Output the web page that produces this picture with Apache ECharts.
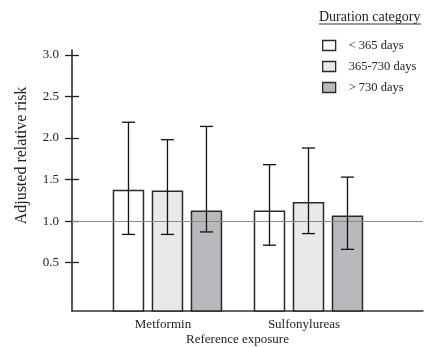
<!DOCTYPE html>
<html>
<head>
<meta charset="utf-8">
<script src="https://cdn.jsdelivr.net/npm/echarts@6/dist/echarts.min.js"></script>
<style>html,body{margin:0;padding:0;background:#fff}#c{width:427px;height:347px}</style>
</head>
<body>
<div id="c"></div>
<script>
// ---- data ----
var categories = ['Metformin', 'Sulfonylureas'];
var durations = ['< 365 days', '365-730 days', '> 730 days'];
var rrShort = [1.37, 1.12];
var rrMid = [1.36, 1.22];
var rrLong = [1.12, 1.06];
var lowShort = [0.84, 0.71];
var highShort = [2.19, 1.68];
var lowMid = [0.84, 0.85];
var highMid = [1.98, 1.88];
var lowLong = [0.87, 0.66];
var highLong = [2.14, 1.53];
var yTicks = [0.5, 1.0, 1.5, 2.0, 2.5, 3.0];
var referenceLevel = 1.0;

// ---- styling ----
var FONT = 'Liberation Serif';
var fills = ['#ffffff', '#e9e9eb', '#b9b9bd'];
var BAR_W = 30, BAR_GAP = 9;

var values = [rrShort, rrMid, rrLong];
var lows = [lowShort, lowMid, lowLong];
var highs = [highShort, highMid, highLong];

var series = [];
durations.forEach(function (name, k) {
  var offset = (k - 1) * (BAR_W + BAR_GAP);
  series.push({
    name: name,
    type: 'custom',
    encode: { x: 0, y: 1 },
    itemStyle: { color: fills[k], borderColor: '#2a2a2a', borderWidth: 1.5 },
    data: categories.map(function (c, i) { return [i, values[k][i]]; }),
    markLine: k === 0 ? {
      silent: true, symbol: 'none', label: { show: false },
      lineStyle: { color: '#8a8a8a', width: 1.2, type: 'solid' },
      data: [{ yAxis: referenceLevel }]
    } : undefined,
    z: 2,
    renderItem: function (params, api) {
      var top = api.coord([api.value(0), api.value(1)]);
      var bottom = params.coordSys.y + params.coordSys.height;
      var x = top[0] + offset - BAR_W / 2;
      return {
        type: 'rect',
        shape: { x: x, y: top[1], width: BAR_W, height: bottom - top[1] },
        style: { fill: fills[k], stroke: '#2a2a2a', lineWidth: 1.5 }
      };
    }
  });
});
durations.forEach(function (name, k) {
  var offset = (k - 1) * (BAR_W + BAR_GAP);
  series.push({
    type: 'custom',
    name: name + ' CI',
    encode: { x: 0, y: [1, 2] },
    data: categories.map(function (c, i) { return [i, lows[k][i], highs[k][i]]; }),
    z: 5,
    renderItem: function (params, api) {
      var lo = api.coord([api.value(0), api.value(1)]);
      var hi = api.coord([api.value(0), api.value(2)]);
      var x = lo[0] + offset;
      var cap = 6.5;
      var st = { stroke: '#111', lineWidth: 1.3 };
      return {
        type: 'group',
        children: [
          { type: 'line', shape: { x1: x, y1: lo[1], x2: x, y2: hi[1] }, style: st },
          { type: 'line', shape: { x1: x - cap, y1: lo[1], x2: x + cap, y2: lo[1] }, style: st },
          { type: 'line', shape: { x1: x - cap, y1: hi[1], x2: x + cap, y2: hi[1] }, style: st }
        ]
      };
    }
  });
});

var chart = echarts.init(document.getElementById('c'), null, { renderer: 'canvas' });
chart.setOption({
  animation: false,
  backgroundColor: '#fff',
  textStyle: { fontFamily: FONT },
  grid: { left: 72, right: 4, top: 50, bottom: 36, outerBoundsMode: 'none', containLabel: false },
  legend: {
    data: durations.map(function (d, k) {
      return { name: d, icon: 'rect', itemStyle: { color: fills[k], borderColor: '#2a2a2a', borderWidth: 1.3 } };
    }),
    orient: 'vertical',
    left: 317, top: 34,
    itemWidth: 13, itemHeight: 10, itemGap: 8,
    textStyle: { fontFamily: FONT, fontSize: 12.5, color: '#222', padding: [0, 0, 0, 8] },
    selectedMode: false
  },
  graphic: [
    { type: 'text', left: 319, top: 10, style: { text: 'Duration category', fontFamily: FONT, fontSize: 14, fill: '#222' } },
    { type: 'line', shape: { x1: 319, y1: 24, x2: 421, y2: 24 }, style: { stroke: '#333', lineWidth: 1 } }
  ],
  xAxis: {
    type: 'value',
    min: -0.677, max: 1.812,
    name: 'Reference exposure',
    nameLocation: 'middle',
    nameGap: 22,
    nameMoveOverlap: false,
    nameTextStyle: { fontFamily: FONT, fontSize: 13, color: '#222', padding: [0, 20, 0, 0] },
    axisLine: { show: true, onZero: false, lineStyle: { color: '#333', width: 1.5 } },
    axisTick: { show: false },
    splitLine: { show: false },
    axisLabel: {
      customValues: [0, 1],
      formatter: function (v) { return categories[Math.round(v)]; },
      fontFamily: FONT, fontSize: 13, color: '#222', margin: 7,
      padding: [0, 9, 0, 0]
    }
  },
  yAxis: [{
    type: 'value',
    min: -0.082, max: 3.06,
    name: 'Adjusted relative risk',
    nameLocation: 'middle',
    nameGap: 42,
    nameRotate: 90,
    nameMoveOverlap: false,
    nameTextStyle: { fontFamily: FONT, fontSize: 16, color: '#222', padding: [0, 0, 0, 50] },
    axisLine: { show: true, onZero: false, lineStyle: { color: '#222', width: 1.5 } },
    axisTick: { show: true, customValues: yTicks, length: 7, lineStyle: { color: '#222', width: 1.3 } },
    splitLine: { show: false },
    axisLabel: {
      customValues: yTicks,
      formatter: function (v) { return v.toFixed(1); },
      fontFamily: FONT, fontSize: 13, color: '#222', margin: 13
    }
  }, {
    type: 'value',
    position: 'left',
    min: -0.082, max: 3.06,
    axisLine: { show: false, onZero: false },
    axisTick: { show: true, inside: true, customValues: yTicks, length: 7, lineStyle: { color: '#222', width: 1.3 } },
    axisLabel: { show: false },
    splitLine: { show: false }
  }],
  series: series
});
</script>
</body>
</html>
